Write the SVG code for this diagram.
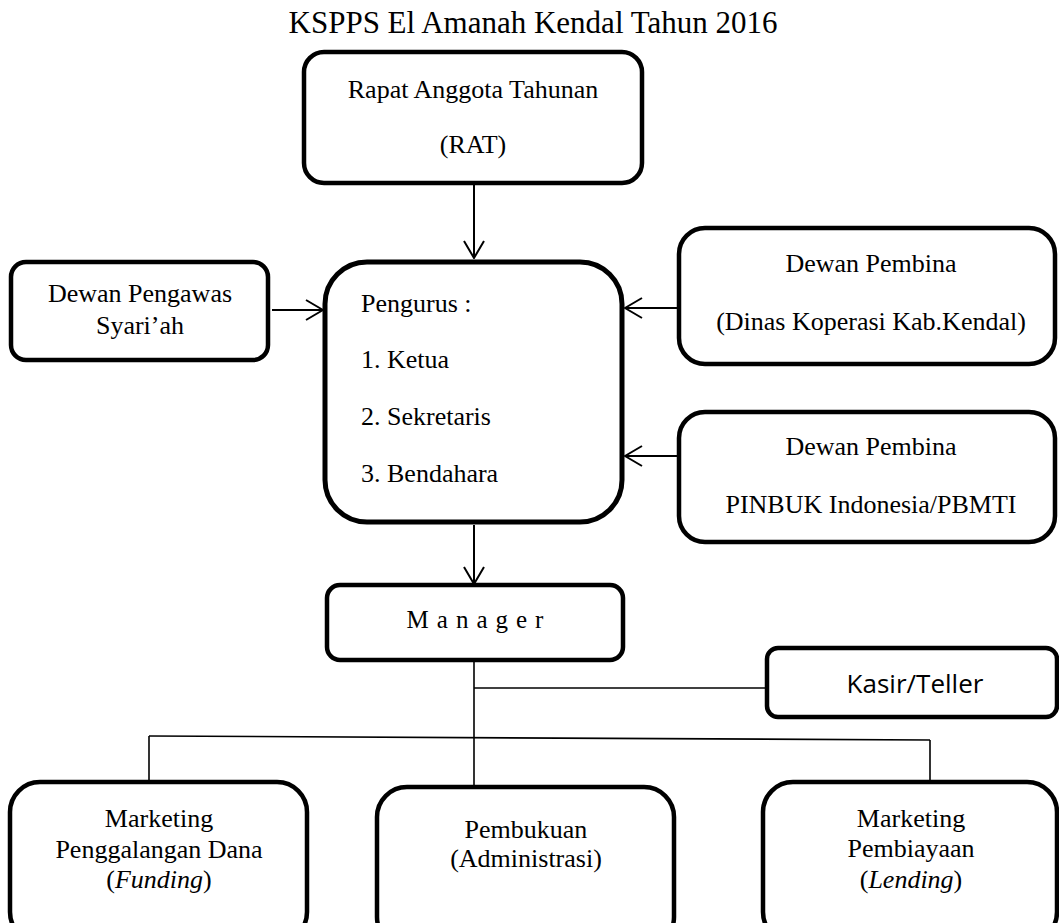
<svg xmlns="http://www.w3.org/2000/svg" width="1059" height="923" viewBox="0 0 1059 923">
<style>
.box{fill:#fff;stroke:#000;stroke-width:4.5}
.t{font-family:"Liberation Serif","Times New Roman",serif;font-size:26px;fill:#000}
.c{text-anchor:middle}
.arr{stroke:#000;stroke-width:2;fill:none;marker-end:url(#ah)}
.ln{stroke:#000;stroke-width:1.6;fill:none}
</style>
<defs>
<marker id="ah" markerUnits="userSpaceOnUse" viewBox="0 0 20 22" refX="19" refY="11" markerWidth="20" markerHeight="22" orient="auto">
<path d="M2,1 L19,11 L2,21" fill="none" stroke="#000" stroke-width="2"/>
</marker>
</defs>
<rect width="1059" height="923" fill="#fff"/>
<text id="title" class="t c" x="533" y="33" style="font-size:31px">KSPPS El Amanah Kendal Tahun 2016</text>

<g id="connectors">
<line class="arr" x1="474" y1="185" x2="474" y2="258"/>
<line class="arr" x1="272" y1="310" x2="323" y2="310"/>
<line class="arr" x1="679" y1="308" x2="625" y2="308"/>
<line class="arr" x1="679" y1="456" x2="625" y2="456"/>
<line class="arr" x1="474" y1="525" x2="474" y2="584"/>
<line class="ln" x1="474" y1="661" x2="474" y2="786"/>
<line class="ln" x1="474" y1="688" x2="767" y2="688"/>
<line class="ln" x1="149" y1="736" x2="930" y2="740"/>
<line class="ln" x1="149" y1="736" x2="149" y2="782"/>
<line class="ln" x1="930" y1="740" x2="930" y2="782"/>
</g>

<g id="rat">
<rect class="box" x="304" y="52" width="338" height="131" rx="20"/>
<text class="t c" x="473" y="98">Rapat Anggota Tahunan</text>
<text class="t c" x="473" y="153">(RAT)</text>
</g>

<g id="pengawas">
<rect class="box" x="11" y="262" width="257" height="98" rx="15"/>
<text class="t c" x="140" y="302">Dewan Pengawas</text>
<text class="t c" x="140" y="334">Syari’ah</text>
</g>

<g id="pengurus">
<rect class="box" x="325" y="262" width="297" height="260" rx="42" style="stroke-width:5"/>
<text class="t" x="361" y="312">Pengurus :</text>
<text class="t" x="361" y="368">1. Ketua</text>
<text class="t" x="361" y="425">2. Sekretaris</text>
<text class="t" x="361" y="482">3. Bendahara</text>
</g>

<g id="pembina1">
<rect class="box" x="679" y="228" width="376" height="136" rx="26"/>
<text class="t c" x="871" y="272">Dewan Pembina</text>
<text class="t c" x="871" y="330">(Dinas Koperasi Kab.Kendal)</text>
</g>

<g id="pembina2">
<rect class="box" x="679" y="412" width="376" height="130" rx="26"/>
<text class="t c" x="871" y="455">Dewan Pembina</text>
<text class="t c" x="871" y="513">PINBUK Indonesia/PBMTI</text>
</g>

<g id="manager">
<rect class="box" x="327" y="585" width="296" height="75" rx="13"/>
<text class="t c" x="479" y="628" style="font-size:25px;letter-spacing:8px">Manager</text>
</g>

<g id="kasir">
<rect class="box" x="767" y="648" width="290" height="69" rx="11"/>
<text class="c" x="915" y="693" style="font-family:'Open Sans','Noto Sans',sans-serif;font-size:26px">Kasir/Teller</text>
</g>

<g id="funding">
<rect class="box" x="10" y="782" width="297" height="160" rx="30"/>
<text class="t c" x="159" y="827">Marketing</text>
<text class="t c" x="159" y="858">Penggalangan Dana</text>
<text class="t c" x="159" y="888">(<tspan font-style="italic">Funding</tspan>)</text>
</g>

<g id="pembukuan">
<rect class="box" x="377" y="787" width="297" height="160" rx="30"/>
<text class="t c" x="526" y="838">Pembukuan</text>
<text class="t c" x="526" y="867">(Administrasi)</text>
</g>

<g id="lending">
<rect class="box" x="763" y="782" width="294" height="160" rx="30"/>
<text class="t c" x="911" y="827">Marketing</text>
<text class="t c" x="911" y="857">Pembiayaan</text>
<text class="t c" x="911" y="888">(<tspan font-style="italic">Lending</tspan>)</text>
</g>
</svg>
